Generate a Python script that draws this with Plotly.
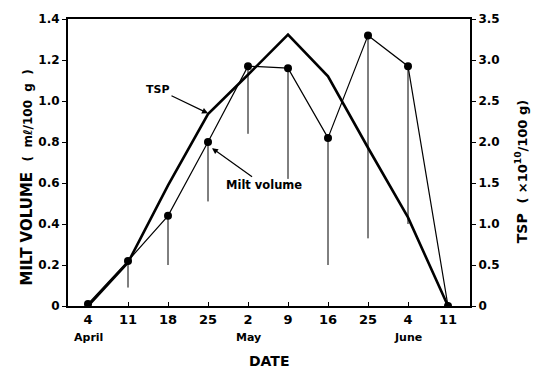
import plotly.graph_objects as go

dates = ["4", "11", "18", "25", "2", "9", "16", "25", "4", "11"]
months = {0: "April", 4: "May", 8: "June"}
milt_volume = [0.01, 0.22, 0.44, 0.80, 1.17, 1.16, 0.82, 1.32, 1.17, 0.0]
milt_sd = [0, 0.13, 0.24, 0.29, 0.33, 0.54, 0.62, 0.99, 0.77, 0]
tsp = [0.0, 0.53, 1.47, 2.34, 2.82, 3.31, 2.80, 1.93, 1.08, 0.0]

idx = list(range(len(dates)))
FONT = "DejaVu Sans"


def f(size):
    return dict(family=FONT, size=size, color="black", weight="bold")


fig = go.Figure()
fig.add_trace(go.Scatter(
    x=idx, y=tsp, yaxis="y2", mode="lines",
    line=dict(color="black", width=2.6), showlegend=False))
fig.add_trace(go.Scatter(
    x=idx, y=milt_volume, mode="lines+markers",
    line=dict(color="black", width=1.2),
    marker=dict(color="black", size=8),
    error_y=dict(type="data", symmetric=False, array=[0] * len(idx),
                 arrayminus=milt_sd, width=0, thickness=1, color="black"),
    showlegend=False))

ann = []
for i, m in months.items():
    ann.append(dict(x=i, y=-0.110, xref="x", yref="paper", yanchor="middle",
                    text=m, showarrow=False, font=f(11)))
ann.append(dict(x=0.5, y=-0.193, xref="paper", yref="paper", text="DATE",
                showarrow=False, yanchor="middle", font=f(14)))
ann.append(dict(x=3.0, y=0.94, xref="x", yref="y", ax=-50, ay=-24,
                text="TSP", showarrow=True, arrowhead=2, arrowsize=1,
                arrowwidth=1.2, arrowcolor="black", font=f(11)))
ann.append(dict(x=3.1, y=0.77, xref="x", yref="y", ax=52, ay=37,
                text="Milt volume", showarrow=True, arrowhead=2, arrowsize=1,
                arrowwidth=1.2, arrowcolor="black", font=f(11.5)))
ann.append(dict(x=-0.102, y=0.448, xref="paper", yref="paper", textangle=-90,
                showarrow=False, xanchor="center", yanchor="middle",
                text="MILT VOLUME  <span style='font-size:12px'>(  mℓ/100  g  )</span>",
                font=f(15)))
ann.append(dict(x=1.129, y=0.469, xref="paper", yref="paper", textangle=-90,
                showarrow=False, xanchor="center", yanchor="middle",
                text="TSP  <span style='font-size:13px'>( ×10<sup>10</sup>/100 g)</span>",
                font=f(14)))

fig.update_layout(
    width=539, height=371,
    margin=dict(l=68, r=69, t=16, b=65),
    plot_bgcolor="white", paper_bgcolor="white",
    xaxis=dict(range=[-0.5, 9.55], tickvals=idx, ticktext=dates,
               showgrid=False, zeroline=False, showline=True, linecolor="black",
               linewidth=2, mirror=True, ticks="inside", ticklen=4,
               tickcolor="black", tickfont=f(13)),
    yaxis=dict(range=[0, 1.4], tickvals=[0, 0.2, 0.4, 0.6, 0.8, 1.0, 1.2, 1.4],
               ticktext=["0", "0.2", "0.4", "0.6", "0.8", "1.0", "1.2", "1.4"],
               showgrid=False, zeroline=False, showline=True, linecolor="black",
               linewidth=2, ticks="outside", ticklen=4, tickcolor="black",
               tickfont=f(12)),
    yaxis2=dict(range=[0, 3.5], overlaying="y", side="right",
                tickvals=[0, 0.5, 1.0, 1.5, 2.0, 2.5, 3.0, 3.5],
                ticktext=["0", "0.5", "1.0", "1.5", "2.0", "2.5", "3.0", "3.5"],
                showgrid=False, zeroline=False, showline=True, linecolor="black",
                linewidth=2, ticks="outside", ticklen=4, tickcolor="black",
                tickfont=f(12)),
    annotations=ann,
)
fig.write_html("out.html")
